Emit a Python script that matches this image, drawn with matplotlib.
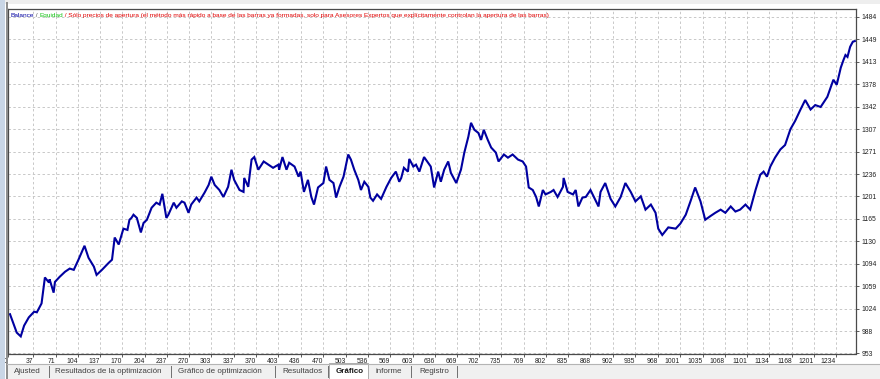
import numpy as np
import matplotlib
matplotlib.use("Agg")
import matplotlib.pyplot as plt
import matplotlib.font_manager as fm
from matplotlib.patches import Rectangle

# Balance curve (trade number, balance)
trades = [3, 13, 19, 24, 31, 39, 43, 50, 55, 61, 62, 68, 70, 77, 85, 92, 98, 105,
          114, 120, 128, 132, 140, 150, 155, 159, 165, 172, 178, 181, 184, 187, 192,
          198, 202, 207, 214, 221, 226, 230, 236, 239, 247, 251, 259, 263, 269, 273,
          281, 285, 293, 299, 303, 308, 315, 321, 328, 333, 337, 345, 351, 352, 358,
          363, 367, 373, 381, 388, 395, 403, 404, 409, 415, 419, 427, 433, 436, 441,
          447, 452, 456, 462, 470, 474, 479, 485, 489, 494, 500, 507, 511, 516, 522,
          526, 531, 537, 540, 544, 550, 556, 564, 571, 578, 583, 586, 590, 596, 598,
          604, 608, 613, 620, 626, 630, 635, 641, 645, 650, 656, 660, 668, 675, 680,
          686, 690, 695, 701, 705, 709, 715, 720, 727, 731, 739, 745, 752, 760, 767,
          772, 776, 782, 787, 791, 797, 801, 809, 813, 819, 827, 828, 834, 842, 846,
          850, 856, 861, 868, 873, 880, 883, 890, 898, 905, 913, 920, 928, 935, 943,
          950, 958, 965, 969, 975, 984, 995, 1002, 1010, 1017, 1024, 1032, 1039, 1047,
          1054, 1062, 1069, 1077, 1084, 1091, 1099, 1106, 1114, 1121, 1126, 1131, 1136,
          1143, 1151, 1158, 1166, 1173, 1181, 1188, 1196, 1203, 1211, 1221, 1230, 1235,
          1241, 1245, 1248, 1251, 1255, 1259, 1262]
balance = [1015, 986, 980, 997, 1010, 1019, 1018, 1032, 1073, 1065, 1070, 1049, 1066,
           1074, 1082, 1087, 1085, 1101, 1123, 1104, 1090, 1077, 1085, 1096, 1101, 1136,
           1125, 1150, 1148, 1164, 1167, 1172, 1167, 1144, 1159, 1164, 1183, 1191, 1188,
           1205, 1167, 1172, 1191, 1183, 1193, 1191, 1175, 1188, 1199, 1193, 1207, 1219,
           1232, 1219, 1211, 1200, 1216, 1243, 1227, 1211, 1208, 1230, 1216, 1259, 1263,
           1243, 1256, 1251, 1246, 1251, 1243, 1263, 1243, 1254, 1248, 1232, 1240, 1208,
           1227, 1200, 1188, 1215, 1222, 1248, 1227, 1222, 1199, 1216, 1232, 1267, 1259,
           1243, 1227, 1211, 1224, 1216, 1199, 1194, 1204, 1197, 1216, 1230, 1240, 1224,
           1230, 1246, 1240, 1260, 1248, 1251, 1240, 1263, 1254, 1248, 1215, 1240, 1224,
           1243, 1256, 1238, 1222, 1243, 1270, 1295, 1317, 1306, 1301, 1290, 1306, 1290,
           1278, 1270, 1256, 1267, 1262, 1267, 1259, 1256, 1248, 1215, 1211, 1200, 1185,
           1211, 1204, 1208, 1211, 1200, 1216, 1230, 1208, 1204, 1211, 1185, 1199, 1200,
           1211, 1200, 1185, 1208, 1222, 1197, 1185, 1200, 1222, 1208, 1193, 1201, 1180,
           1188, 1175, 1150, 1140, 1152, 1150, 1158, 1172, 1193, 1215, 1193, 1164, 1170,
           1175, 1180, 1175, 1185, 1177, 1180, 1188, 1180, 1211, 1235, 1240, 1232, 1248,
           1262, 1275, 1282, 1307, 1320, 1338, 1353, 1338, 1345, 1342, 1358, 1385, 1377,
           1404, 1416, 1424, 1421, 1437, 1445, 1446]

xtick_labels = [0, 37, 71, 104, 137, 170, 204, 237, 270, 303, 337, 370, 403, 436, 470,
                503, 536, 569, 603, 636, 669, 702, 735, 769, 802, 835, 868, 902, 935,
                968, 1001, 1035, 1068, 1101, 1134, 1168, 1201, 1234]
ytick_labels = ["953", "988", "1024", "1059", "1094", "1130", "1165", "1201", "1236",
                "1271", "1307", "1342", "1378", "1413", "1449", "1484"]

tabs = ["Ajusted", "Resultados de la optimización", "Gráfico de optimización",
        "Resultados", "Gráfico", "informe", "Registro"]

names = {f.name for f in fm.fontManager.ttflist}
SMALL = "Liberation Sans Narrow" if "Liberation Sans Narrow" in names else "Liberation Sans"
narrow = SMALL == "Liberation Sans Narrow"
scale = 1.0 if narrow else 0.82

W, H = 880, 379
fig = plt.figure(figsize=(W / 100, H / 100), dpi=100)
fig.patch.set_facecolor("white")

def fx(x):
    return x / W

def fy(y):
    return 1 - y / H

# window chrome
fig.add_artist(Rectangle((0, fy(4)), 1, 4 / H, transform=fig.transFigure,
                         facecolor="#eeeeee", edgecolor="none"))
fig.add_artist(Rectangle((0, 0), fx(5), 1, transform=fig.transFigure,
                         facecolor="#c9d6e6", edgecolor="none"))
fig.add_artist(plt.Line2D([fx(6.5), fx(6.5)], [0, fy(3)], transform=fig.transFigure,
                          color="#8c8c8c", lw=1.4))

# bottom tab bar
fig.add_artist(Rectangle((fx(7), 0), 1, 15.5 / H, transform=fig.transFigure,
                         facecolor="#f0f0f0", edgecolor="none"))
fig.add_artist(plt.Line2D([fx(7), 1], [fy(363.5), fy(363.5)], transform=fig.transFigure,
                          color="#b4b4b4", lw=0.8))
tab_x = [14, 55, 178, 282, 336, 376, 419]
sep_x = [49, 171, 275, 328, 411, 457]
for t, x in zip(tabs, tab_x):
    bold = t == "Gráfico"
    if bold:
        fig.add_artist(Rectangle((fx(329), 0), 39 / W, 16.5 / H,
                                 transform=fig.transFigure, facecolor="white",
                                 edgecolor="#a0a0a0", lw=0.6))
    fig.text(fx(x), fy(371.5), t, fontsize=7.0 * scale, family=SMALL,
             color="#151515" if bold else "#404040",
             fontweight="bold" if bold else "normal", va="center", ha="left")
for x in sep_x:
    fig.add_artist(plt.Line2D([fx(x), fx(x)], [fy(366), fy(377)], transform=fig.transFigure,
                              color="#707070", lw=0.7))

# plot area
ax = fig.add_axes([fx(8), fy(353.5), 848 / W, 344.5 / H])
ax.set_facecolor("white")
ax.plot(trades, balance, color="#0000a0", lw=1.5, solid_joinstyle="miter")

ax.set_xlim(2.8, 1263.7)
ax.set_ylim(953, 1496.6)
ax.set_xticks(xtick_labels)
ax.set_xticklabels([str(v) for v in xtick_labels], ha="right")
ax.set_yticks(np.linspace(953, 1484, len(ytick_labels)))
ax.set_yticklabels(ytick_labels)
ax.yaxis.tick_right()
ax.tick_params(axis="both", labelsize=5.6 * scale + (0 if narrow else 0.3), length=2,
               width=0.6, color="#404040", labelcolor="#202020", direction="out")
ax.tick_params(axis="y", pad=2)
ax.tick_params(axis="x", pad=1)
for lab in ax.get_xticklabels() + ax.get_yticklabels():
    lab.set_family(SMALL)
ax.grid(True, color="#c8c8c8", linestyle=(0, (2.5, 2.5)), linewidth=0.7)
ax.set_axisbelow(True)
for sp in ax.spines.values():
    sp.set_color("#4a4a4a")
    sp.set_linewidth(0.9)

# header line with coloured parts
parts = [("Balance", "#0000a0"), (" / ", "#505050"), ("Equidad", "#10c010"),
         (" / Sólo precios de apertura (el método más rápido a base de las barras ya formadas, "
          "solo para Asesores Expertos que explícitamente controlan la apertura de las barras)",
          "#e00000")]
renderer = fig.canvas.get_renderer()
x0 = 10.5
for txt, col in parts:
    t = fig.text(fx(x0), fy(15.5), txt, fontsize=5.2 * (0.9 if not narrow else 1.0),
                 family=SMALL, color=col, va="center", ha="left")
    bb = t.get_window_extent(renderer)
    x0 += bb.width

fig.savefig("out.png", dpi=100)
